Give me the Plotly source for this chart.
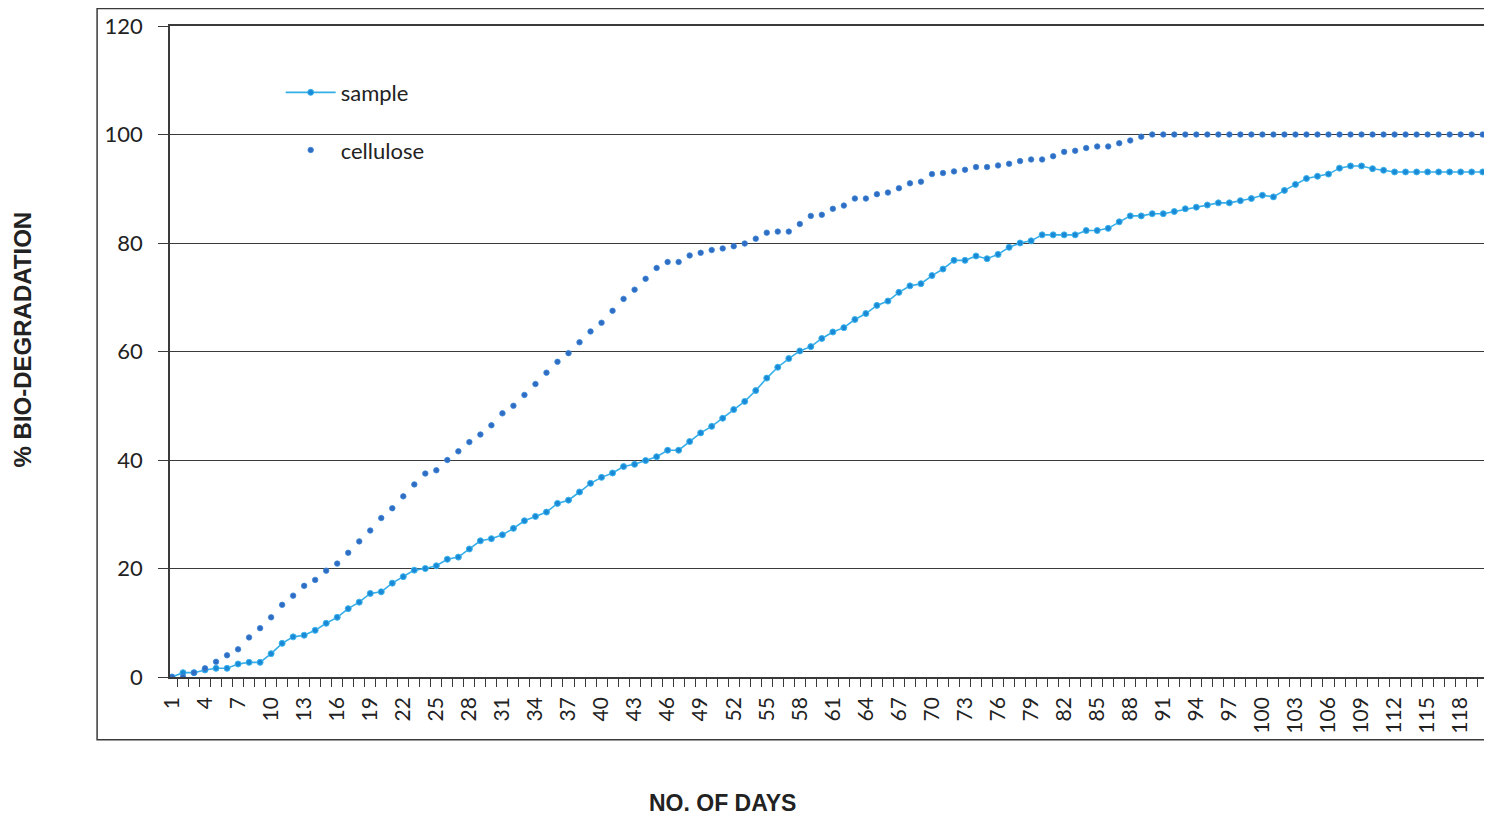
import plotly.graph_objects as go

days = list(range(1, 121))

sample = [
    0, 0.8, 0.8, 1.3, 1.6, 1.6, 2.4, 2.7, 2.7, 4.3, 6.2, 7.4, 7.7, 8.6, 9.9, 11.0, 12.6, 13.8,
    15.4, 15.7, 17.3, 18.5, 19.7, 20.0, 20.5, 21.7, 22.1,
    23.6, 25.1, 25.5, 26.2, 27.4, 28.8, 29.6, 30.4, 32.0, 32.6, 34.1, 35.7,
    36.8, 37.6, 38.8, 39.2, 39.9, 40.6, 41.8, 41.8, 43.4, 45.0, 46.2, 47.7,
    49.3, 50.8, 52.8, 55.1,
    57.1, 58.7, 60.1, 60.9, 62.4, 63.6, 64.4, 65.9, 67.0, 68.5, 69.3, 70.9, 72.1, 72.5, 74.0,
    75.2, 76.8, 76.8, 77.6, 77.1, 77.9,
    79.2, 80.0, 80.4, 81.5, 81.5, 81.5, 81.5, 82.3, 82.3, 82.7, 83.9, 85.0, 85.0, 85.4, 85.4,
    85.8, 86.3, 86.6, 87.0, 87.4, 87.4, 87.8,
    88.2, 88.8, 88.5, 89.7, 90.8, 91.9, 92.3, 92.7, 93.8, 94.2, 94.2, 93.7, 93.4, 93.1,
    93.1, 93.1, 93.1, 93.1, 93.1, 93.1, 93.1, 93.1,
]

cellulose = [
    0, 0, 0.8, 1.6, 2.8, 4.0, 5.1, 7.3, 9.0, 11.0, 13.3, 15.0, 16.8, 17.9, 19.6, 20.9, 22.9, 25.0,
    27.0, 29.3, 31.1, 33.3, 35.5, 37.5, 38.1, 40.0, 41.6,
    43.3, 44.7, 46.4, 48.6, 50.0, 52.0, 54.0, 56.1, 58.1, 59.7, 61.7, 63.7, 65.3, 67.5, 69.7,
    71.4, 73.4, 75.4, 76.5, 76.5, 77.7, 78.2, 78.7, 79.0,
    79.4, 79.9, 80.8, 81.9, 82.1, 82.1, 83.5, 85.0, 85.2, 86.3, 86.9, 88.2, 88.2, 89.0, 89.3,
    90.1, 91.0, 91.3, 92.7, 92.9, 93.2, 93.5, 94.0, 94.0, 94.3,
    94.6, 95.1, 95.4, 95.4, 96.0, 96.8, 97.0, 97.5, 97.8, 97.8, 98.4, 98.9, 99.6,
] + [100] * 31

tick_days = [d for d in days if (d - 1) % 3 == 0]
tick_text = [str(d) for d in tick_days]
y_ticks = [0, 20, 40, 60, 80, 100, 120]

dark = "#3a3a3a"
font_fam = "Lato, 'Open Sans', sans-serif"

fig = go.Figure()
fig.add_trace(go.Scatter(
    x=days, y=sample, name="sample", mode="lines+markers",
    line=dict(color="#35aee8", width=1.6),
    marker=dict(color="#1a8ad6", size=6, line=dict(color="#3cb4ee", width=1)),
    legendgroup="a",
))
fig.add_trace(go.Scatter(
    x=days, y=cellulose, name="cellulose", mode="markers",
    marker=dict(color="#2f6cc2", size=5.5, line=dict(color="#3a86d8", width=0.8)),
    legendgroup="b",
))

fig.update_layout(
    width=1484, height=809,
    margin=dict(l=162, r=4, t=14, b=140),
    paper_bgcolor="white", plot_bgcolor="white",
    font=dict(family=font_fam, size=22, color="#222"),
    showlegend=True,
    legend=dict(
        x=0.0841, y=0.93, xanchor="left", yanchor="top",
        bgcolor="rgba(0,0,0,0)", font=dict(size=22, color="#222"),
        tracegroupgap=26, traceorder="grouped", itemwidth=50,
    ),
    xaxis=dict(
        range=[0.82, 120.3], tickmode="array", tickvals=tick_days, ticktext=tick_text,
        tickangle=-90, ticks="", showgrid=False, zeroline=False,
        showline=True, linecolor=dark, linewidth=1.5, mirror=True,
        ticklabelstandoff=10,
        tickfont=dict(size=21, color="#222"),
        minor=dict(tickvals=[d + 0.5 for d in days[:-1]], ticks="outside",
                   ticklen=8, tickcolor=dark, tickwidth=1, showgrid=False),
    ),
    yaxis=dict(
        range=[0, 120], tickmode="array", tickvals=y_ticks,
        ticks="outside", ticklen=10, tickcolor=dark, tickwidth=1.2,
        showgrid=True, gridcolor=dark, gridwidth=1.2, zeroline=False,
        showline=True, linecolor=dark, linewidth=1.5, mirror=True,
        ticklabelstandoff=11, ticklabeloverflow="allow",
        tickfont=dict(size=22, color="#222"),
    ),
)

fig.add_shape(type="rect", xref="paper", yref="paper",
              x0=-0.0554, x1=1.001, y0=-0.0962, y1=1.027,
              line=dict(color=dark, width=1.5), fillcolor="rgba(0,0,0,0)", layer="below")

fig.add_annotation(text="<b>NO. OF DAYS</b>", xref="paper", yref="paper",
                   x=0.42, y=-0.193, showarrow=False,
                   font=dict(family="'Liberation Sans', Arial, sans-serif", size=23, color="#222"),
                   xanchor="center", yanchor="middle")
fig.add_annotation(text="<b>% BIO-DEGRADATION</b>", xref="paper", yref="paper",
                   x=-0.112, y=0.518, showarrow=False, textangle=-90,
                   font=dict(family="'Liberation Sans', Arial, sans-serif", size=24, color="#222"),
                   xanchor="center", yanchor="middle")

fig.write_html("out.html")
